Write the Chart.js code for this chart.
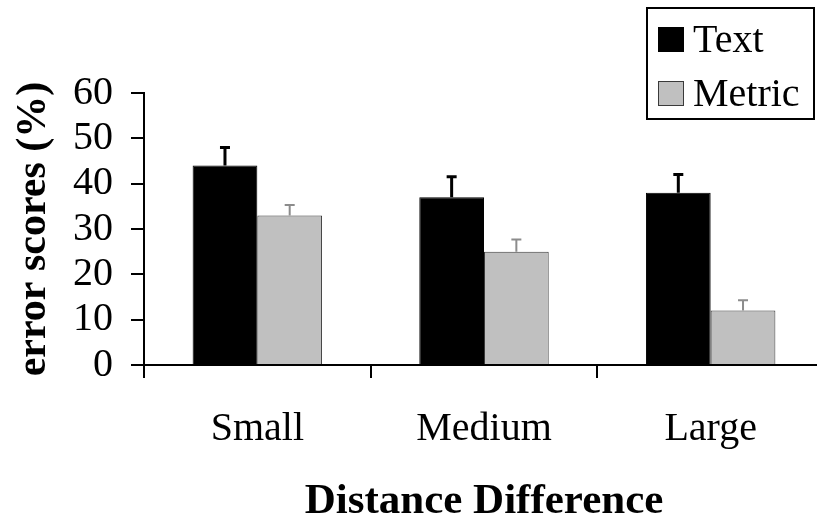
<!DOCTYPE html>
<html>
<head>
<meta charset="utf-8">
<script src="https://cdn.jsdelivr.net/npm/chart.js@4"></script>
<style>
    html, body { margin: 0; padding: 0; overflow: hidden; background: #fff; }
</style>
</head>
<body>
<canvas id="errorChart" width="832" height="519"></canvas>
<script>
// data
const categories = ['Small', 'Medium', 'Large'];
const seriesNames = ['Text', 'Metric'];
const textScores = [44, 37, 38];
const metricScores = [33, 25, 12];
const textErrors = [4, 4.5, 4];
const metricErrors = [2.3, 2.7, 2.3];
const yTicks = [0, 10, 20, 30, 40, 50, 60];

const serif = "'Liberation Serif', 'DejaVu Serif', serif";

// upward-only error bars on top of each bar
const errorBarPlugin = {
    id: 'errorBars',
    afterDatasetsDraw(chart) {
        const ctx = chart.ctx;
        const yScale = chart.scales.y;
        chart.data.datasets.forEach((ds, i) => {
            const meta = chart.getDatasetMeta(i);
            meta.data.forEach((bar, j) => {
                const top = yScale.getPixelForValue(ds.data[j] + ds.errors[j]);
                ctx.save();
                ctx.strokeStyle = ds.errorColor;
                ctx.lineWidth = ds.errorWidth;
                ctx.beginPath();
                ctx.moveTo(bar.x, bar.y);
                ctx.lineTo(bar.x, top);
                ctx.moveTo(bar.x - 5, top);
                ctx.lineTo(bar.x + 5, top);
                ctx.stroke();
                ctx.restore();
            });
        });
    }
};

// boxed legend in the top right corner
const boxLegendPlugin = {
    id: 'boxLegend',
    afterDraw(chart) {
        const ctx = chart.ctx;
        ctx.save();
        ctx.strokeStyle = '#000';
        ctx.lineWidth = 2;
        ctx.strokeRect(647, 8, 167, 111);
        ctx.font = '40px ' + serif;
        ctx.textBaseline = 'alphabetic';
        chart.data.datasets.forEach((ds, i) => {
            const base = 52 + i * 54;
            ctx.fillStyle = ds.backgroundColor;
            ctx.fillRect(658, base - 25, 26, 25);
            ctx.strokeStyle = ds.borderColor;
            ctx.lineWidth = 1;
            ctx.strokeRect(658.5, base - 24.5, 25, 24);
            ctx.fillStyle = '#000';
            ctx.fillText(ds.label, 693, base);
        });
        ctx.restore();
    }
};

new Chart(document.getElementById('errorChart'), {
    type: 'bar',
    data: {
        labels: categories,
        datasets: [{
            label: seriesNames[0],
            data: textScores,
            errors: textErrors,
            backgroundColor: '#000000',
            borderColor: '#000000',
            borderWidth: 1,
            errorColor: '#000000',
            errorWidth: 3
        }, {
            label: seriesNames[1],
            data: metricScores,
            errors: metricErrors,
            backgroundColor: '#c0c0c0',
            borderColor: '#3a3a3a',
            borderWidth: 1,
            errorColor: '#8c8c8c',
            errorWidth: 2
        }]
    },
    options: {
        responsive: false,
        animation: false,
        categoryPercentage: 0.571,
        barPercentage: 1.0,
        layout: { padding: { top: 93, right: 8, left: 0, bottom: 0 } },
        plugins: {
            legend: { display: false },
            tooltip: { enabled: false }
        },
        scales: {
            x: {
                grid: { display: true, offset: true, drawOnChartArea: false, color: '#000', lineWidth: 2, tickLength: 13 },
                border: { color: '#000', width: 2 },
                ticks: { color: '#000', font: { family: serif, size: 40 }, padding: 27, maxRotation: 0 },
                title: {
                    display: true,
                    text: 'Distance Difference',
                    color: '#000',
                    font: { family: serif, size: 43, weight: 'bold', lineHeight: 0.8 },
                    padding: 0
                },
                afterFit(scale) { scale.height = 154; }
            },
            y: {
                min: 0,
                max: 60,
                afterBuildTicks(scale) { scale.ticks = yTicks.map(v => ({ value: v })); },
                grid: { drawOnChartArea: false, color: '#000', lineWidth: 2, tickLength: 13 },
                border: { color: '#000', width: 2 },
                ticks: { color: '#000', font: { family: serif, size: 40 }, padding: 18, autoSkip: false },
                title: {
                    display: true,
                    text: 'error scores (%)',
                    color: '#000',
                    font: { family: serif, size: 42, weight: 'bold' },
                    padding: { top: 9, bottom: 0 }
                },
                afterFit(scale) { scale.width = 144; }
            }
        }
    },
    plugins: [errorBarPlugin, boxLegendPlugin]
});
</script>
</body>
</html>
